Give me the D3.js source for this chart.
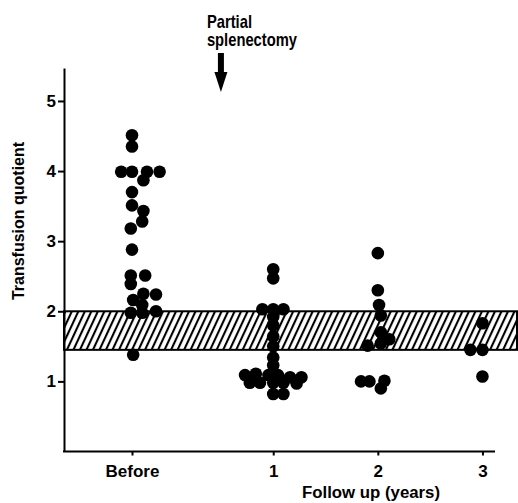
<!DOCTYPE html>
<html>
<head>
<meta charset="utf-8">
<script src="https://cdn.jsdelivr.net/npm/d3@7"></script>
<style>
  body { margin: 0; background: #fff; }
  svg text { font-family: "Liberation Sans", Arial, sans-serif; font-weight: bold; fill: #000; }
</style>
</head>
<body>
<div id="wrapper"></div>
<script>
// 1. Data

const groupLabels = ["Before", "1", "2", "3"];
// follow-up year of each column ("Before" sits to the left of year 1)
const groupYears = [-0.35, 1, 2, 3];

// transfusion quotients, with the swarm slot of each dot
// (slot = sideways shift in dot widths)
const beforeValues = [4.51, 4.35, 3.99, 3.99, 3.99, 3.99, 3.87, 3.70, 3.51, 3.43, 3.28, 3.18,
  2.88, 2.51, 2.51, 2.39, 2.25, 2.24, 2.16, 2.09, 1.98, 1.98, 2.00, 1.38];
const beforeSlots = [0, 0, -0.9, 0, 1.25, 2.3, 0.95, 0, 0, 0.95, 0.85, -0.1,
  0, -0.1, 1.1, -0.1, 0.95, 2, 0.1, 0.85, -0.1, 0.85, 2, 0.1];

const year1Values = [2.60, 2.47, 2.03, 2.03, 2.03, 1.92, 1.80, 1.64, 1.50, 1.34, 1.23,
  1.09, 1.11, 0.98, 0.98, 1.09, 1.09, 1.06, 1.06, 0.98, 0.98, 0.97, 0.82, 0.82];
const year1Slots = [0, 0, -0.9, 0, 0.85, 0, 0, 0, 0, 0, 0,
  -2.35, -1.45, -1.95, -1.1, -0.4, 0.4, 1.4, 2.35, 0, 0.85, 1.95, 0, 0.85];

const year2Values = [2.83, 2.30, 2.09, 1.94, 1.70, 1.60, 1.54, 1.51, 1.00, 1.00, 1.01, 0.90];
const year2Slots = [0, 0, 0.1, 0.25, 0.25, 0.95, 0.25, -0.85, -1.4, -0.7, 0.55, 0.25];

const year3Values = [1.83, 1.45, 1.45, 1.07];
const year3Slots = [0, -1, 0, 0];

const normalRange = [1.45, 2.0];
const yTicks = [1, 2, 3, 4, 5];
const operationYear = 0.5;

const groups = [
  [beforeValues, beforeSlots],
  [year1Values, year1Slots],
  [year2Values, year2Slots],
  [year3Values, year3Slots],
];
const dataset = groups.flatMap(([values, slots], i) =>
  values.map((v, j) => ({ year: groupYears[i], value: v, slot: slots[j] })));

// 2. Dimensions

const dimensions = {
  width: 518,
  height: 503,
  axisX: 64,
  axisY: 451.5,
  bandRight: 517,
};
const dotRadius = 6.3;
const dotStep = 12;

// 3. Canvas

const wrapper = d3.select("#wrapper")
  .append("svg")
    .attr("width", dimensions.width)
    .attr("height", dimensions.height);

// 4. Scales

const xScale = d3.scaleLinear()
  .domain([-1, 3.12])
  .range([dimensions.axisX, 495]);

const yScale = d3.scaleLinear()
  .domain([0, 5.47])
  .range([dimensions.axisY, 68]);

// hatch pattern for the normal range
const defs = wrapper.append("defs");
const pattern = defs.append("pattern")
    .attr("id", "hatch")
    .attr("patternUnits", "userSpaceOnUse")
    .attr("width", 5.9)
    .attr("height", 10)
    .attr("patternTransform", "rotate(25)");
pattern.append("line")
    .attr("x1", 2).attr("x2", 2)
    .attr("y1", 0).attr("y2", 10)
    .attr("stroke", "#000")
    .attr("stroke-width", 2.1);

// 5. Draw

wrapper.append("rect")
    .attr("x", xScale(-1))
    .attr("y", yScale(normalRange[1]))
    .attr("width", dimensions.bandRight - xScale(-1))
    .attr("height", yScale(normalRange[0]) - yScale(normalRange[1]))
    .attr("fill", "url(#hatch)")
    .attr("stroke", "#000")
    .attr("stroke-width", 2);

const yAxis = d3.axisLeft(yScale)
  .tickValues(yTicks)
  .tickSize(6)
  .tickSizeOuter(0)
  .tickPadding(2)
  .tickFormat(d3.format("d"));

const yAxisGroup = wrapper.append("g")
    .attr("transform", `translate(${dimensions.axisX},0)`)
    .call(yAxis);

const xAxis = d3.axisBottom(xScale)
  .tickValues(groupYears)
  .tickSize(4)
  .tickSizeOuter(0)
  .tickPadding(9)
  .tickFormat((d, i) => groupLabels[i]);

const xAxisGroup = wrapper.append("g")
    .attr("transform", `translate(0,${dimensions.axisY})`)
    .call(xAxis);

[yAxisGroup, xAxisGroup].forEach(g => {
  g.selectAll("path, line")
      .attr("stroke", "#000")
      .attr("stroke-width", 2);
  g.selectAll("text")
      .attr("font-size", 17)
      .style("font-family", null);
});
xAxisGroup.select(".domain").attr("d", `M${dimensions.axisX - 1},0H${xScale(3.12)}`);

wrapper.selectAll(".dot")
  .data(dataset)
  .join("circle")
    .attr("class", "dot")
    .attr("cx", d => xScale(d.year) + d.slot * dotStep)
    .attr("cy", d => yScale(d.value))
    .attr("r", dotRadius)
    .attr("fill", "#000");

// axis titles
wrapper.append("text")
    .attr("transform", `translate(24, 221) rotate(-90)`)
    .attr("text-anchor", "middle")
    .attr("font-size", 16)
    .text("Transfusion quotient");

wrapper.append("text")
    .attr("x", 371)
    .attr("y", 498)
    .attr("text-anchor", "middle")
    .attr("font-size", 16.8)
    .text("Follow up (years)");

// operation marker
const opX = xScale(operationYear);
const note = wrapper.append("text")
    .attr("transform", `translate(${opX - 14}, 28) scale(0.82, 1)`)
    .attr("font-size", 18);
note.append("tspan").attr("x", 0).text("Partial");
note.append("tspan").attr("x", 0).attr("dy", 18.5).text("splenectomy");

wrapper.append("path")
    .attr("d", `M${opX - 3},53V72H${opX - 6.5}L${opX},92L${opX + 6.5},72H${opX + 3}V53Z`)
    .attr("fill", "#000");
</script>
</body>
</html>
